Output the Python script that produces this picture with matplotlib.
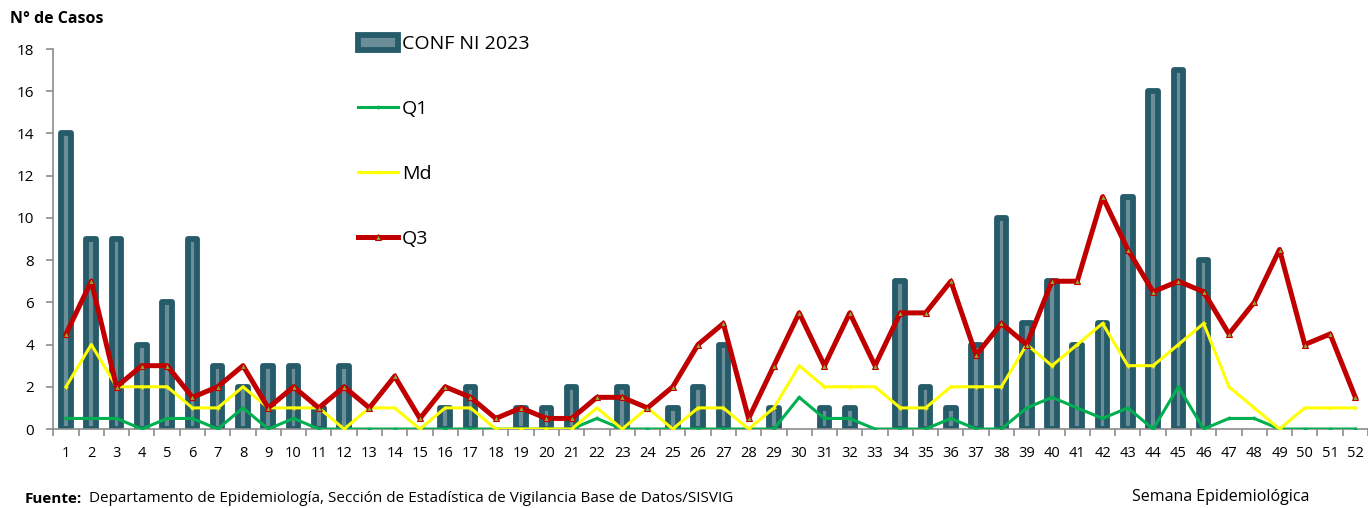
import numpy as np
import matplotlib
matplotlib.use('Agg')
import matplotlib.pyplot as plt

plt.rcParams['font.family'] = ['Open Sans', 'DejaVu Sans']

weeks = list(range(1, 53))

conf_2023 = [14, 9, 9, 4, 6, 9, 3, 2, 3, 3, 1, 3, 0, 0, 0, 1, 2, 0, 1, 1,
             2, 0, 2, 0, 1, 2, 4, 0, 1, 0, 1, 1, 0, 7, 2, 1, 4, 10, 5, 7,
             4, 5, 11, 16, 17, 8, 0, 0, 0, 0, 0, 0]

q1 = [0.5, 0.5, 0.5, 0, 0.5, 0.5, 0, 1, 0, 0.5, 0, 0, 0, 0, 0, 0, 0, 0, 0, 0,
      0, 0.5, 0, 0, 0, 0, 0, 0, 0, 1.5, 0.5, 0.5, 0, 0, 0, 0.5, 0, 0, 1, 1.5,
      1, 0.5, 1, 0, 2, 0, 0.5, 0.5, 0, 0, 0, 0]

md = [2, 4, 2, 2, 2, 1, 1, 2, 1, 1, 1, 0, 1, 1, 0, 1, 1, 0, 0, 0,
      0, 1, 0, 1, 0, 1, 1, 0, 1, 3, 2, 2, 2, 1, 1, 2, 2, 2, 4, 3,
      4, 5, 3, 3, 4, 5, 2, 1, 0, 1, 1, 1]

q3 = [4.5, 7, 2, 3, 3, 1.5, 2, 3, 1, 2, 1, 2, 1, 2.5, 0.5, 2, 1.5, 0.5, 1, 0.5,
      0.5, 1.5, 1.5, 1, 2, 4, 5, 0.5, 3, 5.5, 3, 5.5, 3, 5.5, 5.5, 7, 3.5, 5, 4, 7,
      7, 11, 8.5, 6.5, 7, 6.5, 4.5, 6, 8.5, 4, 4.5, 1.5]

x = np.arange(len(weeks))
conf_arr = np.array(conf_2023)
has_cases = conf_arr > 0

fig = plt.figure(figsize=(13.68, 5.08), dpi=100)
ax = fig.add_axes([0.039, 0.1555, 0.961, 0.748])

# bars: light inner stripe with a thick dark rounded edge
bars = ax.bar(x[has_cases], conf_arr[has_cases], width=0.38, color='#6B8D97',
              edgecolor='#265B6A', linewidth=4.2, joinstyle='round',
              label='CONF NI 2023', zorder=2)

l_q1, = ax.plot(x, q1, color='#00B050', linewidth=2.2, marker='+',
                markersize=3, label='Q1', zorder=3)
l_md, = ax.plot(x, md, color='#FFFF00', linewidth=2.2, marker='+',
                markersize=3, label='Md', zorder=4)
l_q3, = ax.plot(x, q3, color='#C00000', linewidth=3.6, marker='^',
                markersize=4, markerfacecolor='#8FA83C',
                markeredgecolor='#C00000', markeredgewidth=0.8,
                label='Q3', zorder=5)

ax.set_xlim(-0.5, len(weeks) - 0.5)
ax.set_ylim(0, 18)
ax.set_yticks(range(0, 19, 2))
ax.set_xticks(x)
ax.set_xticklabels(weeks)
ax.set_xticks(np.arange(-0.5, len(weeks), 1), minor=True)
ax.tick_params(axis='x', which='major', length=0, pad=12, labelsize=10.5)
ax.tick_params(axis='x', which='minor', length=5, color='#8C8C8C', width=1.2)
ax.tick_params(axis='y', length=5, color='#8C8C8C', width=1.2, pad=9,
               labelsize=11)

for side in ['top', 'right']:
    ax.spines[side].set_visible(False)
for side in ['left', 'bottom']:
    ax.spines[side].set_color('#8C8C8C')
    ax.spines[side].set_linewidth(1.2)

ax.legend(handles=[bars, l_q1, l_md, l_q3],
          loc='upper left', bbox_to_anchor=(0.249, 0.9655),
          bbox_transform=fig.transFigure, frameon=False, fontsize=14,
          labelspacing=2.4, handlelength=2.06, handletextpad=0.2,
          handleheight=0.8)

fig.text(0.007, 0.963, 'N° de Casos', fontsize=11.5, fontweight='bold',
         ha='left', va='center')
fig.text(0.892, 0.022, 'Semana Epidemiológica', fontsize=11.5,
         ha='center', va='center')
fig.text(0.018, 0.018, 'Fuente:', fontsize=11, fontweight='bold',
         ha='left', va='center')
fig.text(0.065, 0.018,
         'Departamento de Epidemiología, Sección de Estadística de Vigilancia Base de Datos/SISVIG',
         fontsize=11, ha='left', va='center')

fig.savefig('out.png', dpi=100)
